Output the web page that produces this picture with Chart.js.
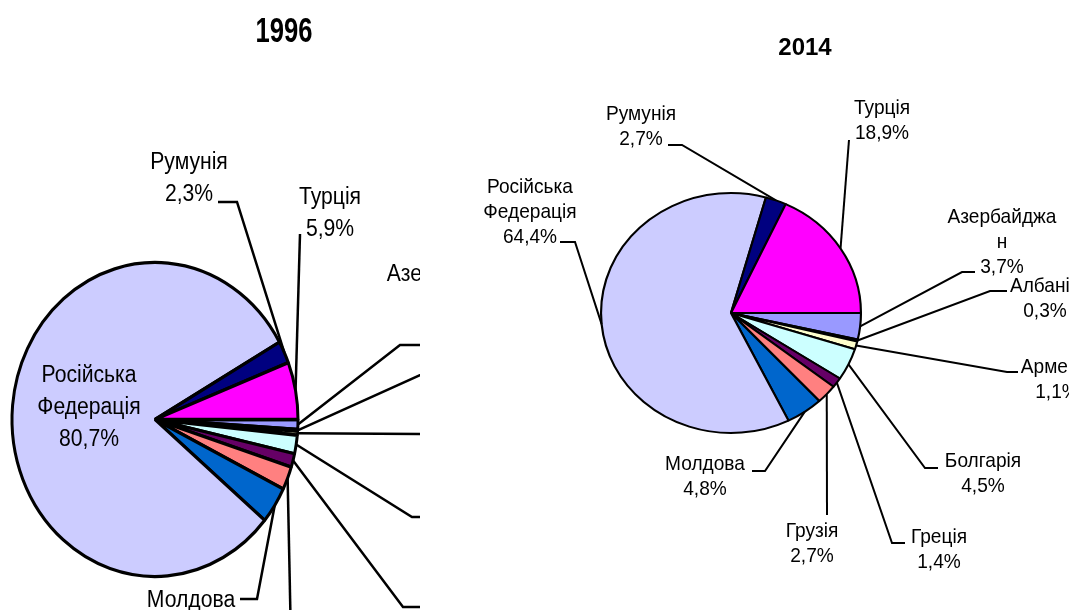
<!DOCTYPE html>
<html><head><meta charset="utf-8">
<script src="https://cdn.jsdelivr.net/npm/chart.js@4.4.1/dist/chart.umd.min.js"></script>
<style>
html,body{margin:0;padding:0;background:#fff;width:1069px;height:610px;overflow:hidden;}
#c1996{position:absolute;left:0;top:0;}
#c2014{position:absolute;left:420px;top:0;}
</style></head><body>
<canvas id="c1996" width="420" height="610"></canvas>
<canvas id="c2014" width="649" height="610"></canvas>
<script>
// ---- data ----
const categories = ['Азербайджан','Албанія','Арменія','Болгарія','Греція','Грузія','Молдова','Російська Федерація','Румунія','Турція'];
const displayNames = ['Азербайджа\nн','Албанія','Арменія','Болгарія','Греція','Грузія','Молдова','Російська\nФедерація','Румунія','Турція'];
const values1996 = [1.0, 0.2, 0.4, 1.9, 1.4, 2.4, 3.8, 80.7, 2.3, 5.9];
const values2014 = [3.7, 0.3, 1.1, 4.5, 1.4, 2.7, 4.8, 64.4, 2.7, 18.9];
const sliceColors = ['#9999FF','#993366','#FFFFCC','#CCFFFF','#660066','#FF8080','#0066CC','#CCCCFF','#000080','#FF00FF'];

// ---- label layout (positions in canvas px) ----
const labelLayout1996 = [
  {x:447, y:281, leader:[[400,345],[424,345]]},
  {x:500, y:368, leader:[[440,366],[455,366]]},
  {x:490, y:428, leader:[[440,434],[452,434]]},
  {x:470, y:510, leader:[[412,517],[428,517]]},
  {x:460, y:603, leader:[[403,607],[420,607]]},
  {x:291, y:665, leader:[[291,642]]},
  {x:191, y:607, leader:[[257,599],[240,599]]},
  {x:89,  y:382, leader:null},
  {x:189, y:169, leader:[[237,202],[218,202]]},
  {x:330, y:204, leader:[[300,234]]}
];
const labelLayout2014 = [
  {x:582, y:223, leader:[[542,272],[555,272]]},
  {x:625, y:292, leader:[[570,291],[587,291]]},
  {x:637, y:373, leader:[[587,372],[598,372]]},
  {x:563, y:467, leader:[[505,468],[518,468]]},
  {x:519, y:543, leader:[[472,543],[485,543]]},
  {x:392, y:537, leader:[[407,515]]},
  {x:285, y:470, leader:[[345,471],[332,471]]},
  {x:110, y:193, leader:[[155,242],[140,242]]},
  {x:221, y:120, leader:[[262,145],[248,145]]},
  {x:462, y:114, leader:[[429,140]]}
];

function fmt(v){ return v.toFixed(1).replace('.', ',') + '%'; }

function condensedText(ctx, t, x, y, k) {
  ctx.save();
  ctx.translate(x, y);
  ctx.scale(k, 1);
  ctx.fillText(t, 0, 0);
  ctx.restore();
}

const ellipsePlugin = {
  id: 'ellipse',
  beforeDatasetsDraw(chart, args, opts) {
    const arc = chart.getDatasetMeta(0).data[0];
    const ctx = chart.ctx;
    ctx.save();
    ctx.translate(arc.x, arc.y);
    ctx.scale(opts.sx, opts.sy);
    ctx.translate(-arc.x, -arc.y);
  },
  afterDatasetsDraw(chart) { chart.ctx.restore(); }
};

const calloutPlugin = {
  id: 'callouts',
  afterDraw(chart, args, o) {
    const ctx = chart.ctx;
    const meta = chart.getDatasetMeta(0);
    const data = chart.data.datasets[0].data;
    const sx = chart.options.plugins.ellipse.sx, sy = chart.options.plugins.ellipse.sy;
    ctx.save();
    ctx.fillStyle = '#000';
    ctx.textAlign = 'center';
    ctx.textBaseline = 'alphabetic';
    ctx.font = o.titleFont;
    condensedText(ctx, o.title, o.titleX, o.titleY, o.titleScale);
    ctx.font = o.font;
    ctx.strokeStyle = '#000';
    ctx.lineWidth = o.leaderWidth;
    meta.data.forEach((arc, i) => {
      const p = o.layout[i];
      const {x, y, startAngle, endAngle, outerRadius} = arc.getProps(['x','y','startAngle','endAngle','outerRadius'], true);
      const mid = (startAngle + endAngle) / 2;
      if (p.leader) {
        ctx.beginPath();
        ctx.moveTo(x + Math.cos(mid) * outerRadius * sx, y + Math.sin(mid) * outerRadius * sy);
        p.leader.forEach(pt => ctx.lineTo(pt[0], pt[1]));
        ctx.stroke();
      }
      const lines = o.names[i].split('\n').concat([fmt(data[i])]);
      lines.forEach((t, k) => condensedText(ctx, t, p.x, p.y + k * o.lineH, o.textScale));
    });
    ctx.restore();
  }
};

function makePie(id, values, radius, padding, ell, callouts, borderW) {
  return new Chart(document.getElementById(id), {
    type: 'pie',
    data: {
      labels: categories,
      datasets: [{
        data: values,
        backgroundColor: sliceColors,
        borderColor: '#000000',
        borderWidth: borderW,
        hoverOffset: 0
      }]
    },
    options: {
      responsive: false,
      animation: false,
      devicePixelRatio: 1,
      rotation: 90,
      radius: radius,
      layout: { padding: padding },
      events: [],
      plugins: {
        legend: { display: false },
        tooltip: { enabled: false },
        title: { display: false },
        ellipse: ell,
        callouts: callouts
      }
    },
    plugins: [ellipsePlugin, calloutPlugin]
  });
}

makePie('c1996', values1996, 143, {left:0, right:110, top:250, bottom:21}, {sx:1, sy:1.098}, {
  title: '1996', titleX: 284, titleY: 42, titleScale: 0.73,
  titleFont: 'bold 35px "Liberation Sans", Arial, sans-serif',
  font: '23.5px "Liberation Sans", Arial, sans-serif', textScale: 0.9, lineH: 32, leaderWidth: 2.5,
  layout: labelLayout1996, names: displayNames
}, 3);

makePie('c2014', values2014, 120, {left:0, right:27, top:40, bottom:24}, {sx:1.083, sy:1}, {
  title: '2014', titleX: 385, titleY: 55, titleScale: 1,
  titleFont: 'bold 24px "Liberation Sans", Arial, sans-serif',
  font: '21px "Liberation Sans", Arial, sans-serif', textScale: 0.91, lineH: 25, leaderWidth: 2,
  layout: labelLayout2014, names: displayNames
}, 2);
</script>
</body></html>
